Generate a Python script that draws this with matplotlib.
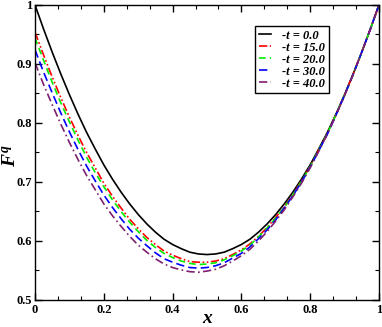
import numpy as np
import matplotlib
matplotlib.use("Agg")
import matplotlib.pyplot as plt
from matplotlib.ticker import MultipleLocator, FormatStrFormatter

# данные (шаг 0.025)
x = np.linspace(0, 1, 41)
f_t0 = [1.000, .959, .920, .883, .848, .815, .784, .756, .729, .705, .683, .663, .645, .629,
        .615, .603, .594, .587, .581, .578, .577, .578, .581, .587, .594, .603, .615, .629,
        .645, .663, .683, .705, .729, .756, .784, .815, .848, .883, .920, .959, 1.000]
f_t15 = [.954, .915, .878, .843, .810, .779, .750, .724, .698, .676, .656, .637, .621, .606,
         .594, .583, .576, .570, .565, .564, .564, .566, .570, .577, .585, .595, .608, .623,
         .640, .658, .679, .702, .726, .754, .782, .814, .847, .883, .920, .959, 1.000]
f_t20 = [.944, .906, .869, .834, .802, .771, .742, .716, .692, .670, .650, .632, .616, .601,
         .589, .579, .572, .566, .562, .560, .561, .563, .568, .575, .583, .593, .607, .622,
         .639, .657, .678, .701, .726, .754, .782, .814, .847, .882, .920, .959, 1.000]
f_t30 = [.924, .886, .851, .817, .785, .755, .727, .702, .678, .657, .638, .620, .605, .592,
         .580, .570, .564, .559, .555, .554, .555, .558, .563, .571, .579, .590, .604, .619,
         .636, .656, .677, .700, .725, .753, .781, .813, .847, .882, .920, .959, 1.000]
f_t40 = [.902, .865, .831, .798, .767, .738, .711, .687, .663, .643, .625, .608, .593, .581,
         .570, .561, .555, .551, .548, .547, .549, .552, .558, .566, .575, .586, .600, .616,
         .634, .653, .675, .698, .724, .752, .781, .813, .846, .882, .920, .959, 1.000]
labels = ["-t = 0.0", "-t = 15.0", "-t = 20.0", "-t = 30.0", "-t = 40.0"]

plt.rcParams['font.family'] = 'Liberation Serif'
plt.rcParams['mathtext.fontset'] = 'custom'
plt.rcParams['mathtext.it'] = 'Liberation Serif:italic:bold'
plt.rcParams['mathtext.rm'] = 'Liberation Serif:bold'

fig = plt.figure(figsize=(3.82, 3.27), dpi=100)
ax = fig.add_axes([0.0916, 0.0826, 0.9004, 0.9024])

ax.plot(x, f_t0, color='black', lw=1.2, label=labels[0])
ax.plot(x, f_t15, color='red', lw=1.2, dashes=(5, 1.5, 1, 1.5, 1, 1.5), label=labels[1])
ax.plot(x, f_t20, color='#00ee00', lw=1.2, dashes=(4, 2.5), label=labels[2])
ax.plot(x, f_t30, color='blue', lw=1.2, dashes=(5, 2.5), label=labels[3])
ax.plot(x, f_t40, color='#7f1f6f', lw=1.2, dashes=(5, 2, 1, 2), label=labels[4])

ax.set_xlim(0, 1)
ax.set_ylim(0.5, 1)
ax.xaxis.set_major_locator(MultipleLocator(0.2))
ax.xaxis.set_minor_locator(MultipleLocator(0.2 / 3))
ax.yaxis.set_major_locator(MultipleLocator(0.1))
ax.yaxis.set_minor_locator(MultipleLocator(0.05))
ax.xaxis.set_major_formatter(FormatStrFormatter('%g'))
ax.yaxis.set_major_formatter(FormatStrFormatter('%g'))
ax.tick_params(which='both', direction='in', top=True, right=True,
               labelsize=9, pad=3)
ax.tick_params(axis='y', pad=2)
ax.tick_params(which='major', length=5, width=1)
ax.tick_params(which='minor', length=3, width=0.8)
for lab in ax.get_xticklabels() + ax.get_yticklabels():
    lab.set_fontweight('bold')
for s in ax.spines.values():
    s.set_linewidth(1)

ax.set_xlabel('x', fontsize=14, fontweight='bold', style='italic')
ax.xaxis.set_label_coords(0.5, -0.035)
ax.set_ylabel(r'$F^q$', fontsize=14)
ax.yaxis.set_label_coords(-0.045, 0.49)

leg = ax.legend(loc='upper right', bbox_to_anchor=(0.855, 0.929),
                prop={'family': 'Liberation Serif', 'weight': 'bold',
                      'style': 'italic', 'size': 9},
                frameon=True, fancybox=False, framealpha=1, edgecolor='black',
                handlelength=1.0, handletextpad=0.9, labelspacing=0.0,
                borderpad=0.3, borderaxespad=0)
leg.get_frame().set_linewidth(1)

fig.savefig('out.png', dpi=100)
